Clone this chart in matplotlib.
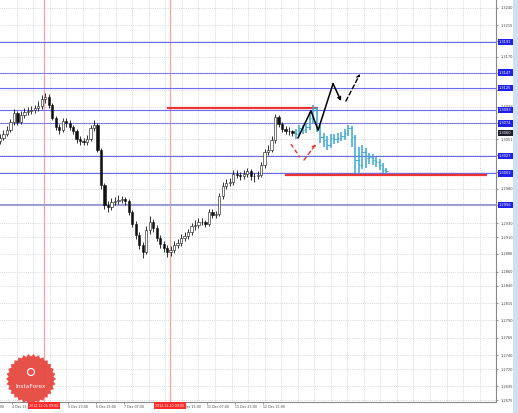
import numpy as np
import matplotlib
matplotlib.use("Agg")
import matplotlib.pyplot as plt
import matplotlib.transforms as mtransforms
from matplotlib.patches import Polygon, Circle

# ---------------- data ----------------
bar_hours = 2  # each bar covers 2 trading hours; x axis in trading hours

first_open = 1.3048
close = [1.3053, 1.3059, 1.3064, 1.3076, 1.3089, 1.3076, 1.3086, 1.3090, 1.3092, 1.3093,
         1.3096, 1.3099, 1.3109, 1.3112, 1.3100, 1.3082, 1.3069, 1.3064, 1.3077, 1.3074,
         1.3069, 1.3063, 1.3051, 1.3048, 1.3047, 1.3051, 1.3067, 1.3072, 1.3036, 1.2985,
         1.2956, 1.2953, 1.2961, 1.2962, 1.2964, 1.2965, 1.2962, 1.2946, 1.2929, 1.2913,
         1.2899, 1.2889, 1.2920, 1.2932, 1.2923, 1.2909, 1.2900, 1.2894, 1.2889, 1.2892,
         1.2899, 1.2902, 1.2909, 1.2912, 1.2917, 1.2926, 1.2928, 1.2932, 1.2932, 1.2929,
         1.2946, 1.2942, 1.2943, 1.2969, 1.2984, 1.2988, 1.2989, 1.3001, 1.3000, 1.2998,
         1.3001, 1.3005, 1.2998, 1.2998, 1.3000, 1.3014, 1.3033, 1.3036, 1.3050, 1.3083,
         1.3073, 1.3066, 1.3063, 1.3063, 1.3060]
high = [1.3058, 1.3064, 1.3070, 1.3080, 1.3095, 1.3092, 1.3091, 1.3096, 1.3097, 1.3099,
        1.3101, 1.3106, 1.3114, 1.3118, 1.3116, 1.3103, 1.3085, 1.3073, 1.3082, 1.3081,
        1.3078, 1.3072, 1.3066, 1.3055, 1.3053, 1.3057, 1.3072, 1.3078, 1.3075, 1.3039,
        1.2988, 1.2962, 1.2966, 1.2968, 1.2970, 1.2969, 1.2968, 1.2965, 1.2949, 1.2933,
        1.2917, 1.2903, 1.2926, 1.2940, 1.2936, 1.2927, 1.2913, 1.2905, 1.2898, 1.2897,
        1.2904, 1.2907, 1.2914, 1.2917, 1.2922, 1.2931, 1.2934, 1.2938, 1.2937, 1.2935,
        1.2951, 1.2950, 1.2948, 1.2974, 1.2989, 1.2994, 1.2995, 1.3006, 1.3006, 1.3004,
        1.3006, 1.3009, 1.3008, 1.3003, 1.3005, 1.3018, 1.3037, 1.3042, 1.3055, 1.3088,
        1.3086, 1.3076, 1.3070, 1.3068, 1.3065]
low = [1.3044, 1.3050, 1.3055, 1.3061, 1.3072, 1.3071, 1.3073, 1.3082, 1.3086, 1.3087,
       1.3089, 1.3092, 1.3095, 1.3103, 1.3096, 1.3078, 1.3064, 1.3059, 1.3061, 1.3069,
       1.3064, 1.3058, 1.3046, 1.3043, 1.3042, 1.3043, 1.3049, 1.3063, 1.3032, 1.2980,
       1.2950, 1.2946, 1.2949, 1.2956, 1.2958, 1.2959, 1.2957, 1.2942, 1.2924, 1.2907,
       1.2893, 1.2880, 1.2886, 1.2915, 1.2918, 1.2904, 1.2895, 1.2888, 1.2881, 1.2883,
       1.2887, 1.2894, 1.2897, 1.2904, 1.2907, 1.2913, 1.2921, 1.2923, 1.2927, 1.2924,
       1.2926, 1.2937, 1.2938, 1.2940, 1.2965, 1.2979, 1.2983, 1.2985, 1.2995, 1.2993,
       1.2994, 1.2997, 1.2992, 1.2990, 1.2994, 1.2997, 1.3010, 1.3028, 1.3032, 1.3046,
       1.3068, 1.3061, 1.3058, 1.3057, 1.3055]

# projected pattern (cyan)
proj_first_open = 1.3060
proj_close = [1.3059, 1.3067, 1.3064, 1.3069, 1.3082, 1.3096, 1.3069, 1.3054, 1.3050, 1.3043,
              1.3053, 1.3051, 1.3053, 1.3056, 1.3060, 1.3067, 1.3054, 1.3021, 1.3014, 1.3033,
              1.3024, 1.3026, 1.3021, 1.3018, 1.3014, 1.3007, 1.3005]
proj_high = [1.3066, 1.3072, 1.3071, 1.3075, 1.3090, 1.3100, 1.3098, 1.3072, 1.3060, 1.3056,
             1.3058, 1.3058, 1.3060, 1.3062, 1.3066, 1.3072, 1.3070, 1.3057, 1.3040, 1.3042,
             1.3038, 1.3031, 1.3030, 1.3026, 1.3022, 1.3017, 1.3010]
proj_low = [1.3052, 1.3055, 1.3058, 1.3060, 1.3065, 1.3075, 1.3062, 1.3046, 1.3040, 1.3036,
            1.3038, 1.3044, 1.3046, 1.3048, 1.3050, 1.3055, 1.3040, 1.3002, 1.3001, 1.3008,
            1.3010, 1.3016, 1.3014, 1.3011, 1.3006, 1.3002, 1.3001]

# horizontal levels (blue), current price
levels = [1.3191, 1.3147, 1.3125, 1.3093, 1.3074, 1.3027, 1.3002]
level_thick = 1.2956
current_price = 1.3060

# red support / resistance segments: (price, start hour, end hour)
res_price, res_start, res_end = 1.3096, 95.9, 182.7
sup_price, sup_start, sup_end = 1.3000, 163.7, 279.7

# vertical red lines (hours) and their labels
vline_hours = [25.3, 97.6]
vline_labels = ["2012.12.05 09:00", "2012.12.10 09:00"]

# forecast arrows
black_x = [171.2, 178.6, 182.7, 191.3, 195.9]
black_y = [1.3053, 1.3092, 1.3064, 1.3131, 1.3106]
black_dash_x = [198.7, 206.8]
black_dash_y = [1.3106, 1.3145]
red_dash1_x = [167.1, 172.3]
red_dash1_y = [1.3044, 1.3025]
red_dash2_x = [174.6, 181.5]
red_dash2_y = [1.3021, 1.3044]

# axis ticks
price_ticks = [1.3240, 1.3215, 1.3193, 1.3170, 1.3146, 1.3122, 1.3098, 1.3075, 1.3051,
               1.3028, 1.3004, 1.2980, 1.2957, 1.2930, 1.2910, 1.2886, 1.2860, 1.2840,
               1.2815, 1.2790, 1.2765, 1.2740, 1.2720, 1.2695, 1.2675]
first_date_hour, first_date_label = -9, "3 Dec 23:00"
date_tick_hours = [7, 39, 55, 71, 103, 119, 135, 151]
date_tick_labels = ["4 Dec 15:00", "5 Dec 23:00", "6 Dec 15:00", "7 Dec 07:00",
                    "10 Dec 15:00", "11 Dec 07:00", "11 Dec 23:00", "12 Dec 15:00"]

# ---------------- figure ----------------
W, H = 518, 413
fig = plt.figure(figsize=(W / 100, H / 100), dpi=100)
fig.patch.set_facecolor("white")
ax = fig.add_axes([0, 11 / H, 496 / W, 402 / H])

# light blue strip at far right
fig.add_artist(plt.Rectangle((513 / W, 0), 5 / W, 1, transform=fig.transFigure,
                             fc="#cfe0f2", ec="none"))

# ticks and grid
ax.set_yticks(price_ticks)
ax.set_yticklabels([f"{v:.4f}" for v in price_ticks])
ax.yaxis.tick_right()
ax.tick_params(axis="y", labelsize=2.6, length=1.5, width=0.4, pad=1.5,
               colors="#444444")
ax.grid(axis="y", ls=":", color="#bdbdbd", lw=0.5)
for gx in np.arange(9.5, 285, 9.5):
    ax.axvline(gx, ls=":", color="#bdbdbd", lw=0.5, zorder=0)

ax.set_xticks(date_tick_hours)
ax.set_xticklabels(date_tick_labels, ha="left")
ax.tick_params(axis="x", labelsize=2.3, length=1.5, width=0.4, pad=1,
               colors="#444444")

for s in ["top", "left"]:
    ax.spines[s].set_visible(False)
for s in ["right", "bottom"]:
    ax.spines[s].set_color("#888888")
    ax.spines[s].set_linewidth(0.8)

# vertical red lines
for vh in vline_hours:
    ax.axvline(vh, color="#f5a3a3", lw=0.9, zorder=1)

# blue levels
for lv in levels:
    ax.axhline(lv, color="#6b6bf0", lw=0.8, zorder=1)
ax.axhline(level_thick, color="#9a9ad6", lw=1.5, zorder=1)

# red segments
ax.hlines(res_price, res_start, res_end, color="#ee3333", lw=1.6, zorder=3)
ax.hlines(sup_price, sup_start, sup_end, color="#ee3333", lw=1.6, zorder=3)

# candles
x = np.arange(len(close)) * bar_hours
opens = [first_open] + close[:-1]
ax.vlines(x, low, high, color="#111111", lw=0.6, zorder=4)
bull = [c >= o for o, c in zip(opens, close)]
heights = [c - o if abs(c - o) > 0.00005 else 0.00005 for o, c in zip(opens, close)]
ax.bar(x, heights, bottom=opens, width=1.3,
       color=["white" if b else "#111111" for b in bull],
       edgecolor="#111111", lw=0.4, zorder=5)

# projected bars
px = (len(close) + np.arange(len(proj_close))) * bar_hours
popens = [proj_first_open] + proj_close[:-1]
pc = "#3ba7cf"
ax.vlines(px, proj_low, proj_high, color=pc, lw=1.1, zorder=4)
ax.hlines(popens, px - 0.8, px, color=pc, lw=0.8, zorder=4)
ax.hlines(proj_close, px, px + 0.8, color=pc, lw=0.8, zorder=4)

# forecast arrows
ax.plot(black_x[:-1], black_y[:-1], color="black", lw=1.1, zorder=6)
ax.annotate("", xy=(black_x[-1], black_y[-1]), xytext=(black_x[-2], black_y[-2]),
            arrowprops=dict(arrowstyle="->", color="black", lw=1.1,
                            mutation_scale=5, shrinkA=0, shrinkB=0), zorder=6)
ax.annotate("", xy=(black_dash_x[1], black_dash_y[1]), xytext=(black_dash_x[0], black_dash_y[0]),
            arrowprops=dict(arrowstyle="->", color="black", lw=1.0, ls=(0, (3, 2)),
                            mutation_scale=5, shrinkA=0, shrinkB=0), zorder=6)
ax.plot(red_dash1_x, red_dash1_y, color="#ee3333", lw=1.0, ls=(0, (3, 2)), zorder=6)
ax.annotate("", xy=(red_dash2_x[1], red_dash2_y[1]), xytext=(red_dash2_x[0], red_dash2_y[0]),
            arrowprops=dict(arrowstyle="->", color="#ee3333", lw=1.0, ls=(0, (3, 2)),
                            mutation_scale=5, shrinkA=0, shrinkB=0), zorder=6)

# price boxes on the axis
ytr = mtransforms.blended_transform_factory(ax.transAxes, ax.transData)
for lv in levels + [level_thick]:
    ax.text(1.006, lv, f"{lv:.4f}", transform=ytr, ha="left", va="center",
            fontsize=2.6, color="white", clip_on=False, zorder=10,
            bbox=dict(boxstyle="square,pad=0.35", fc="#2020e8", ec="none"))
ax.text(1.006, current_price, f"{current_price:.4f}", transform=ytr, ha="left",
        va="center", fontsize=2.6, color="white", clip_on=False, zorder=11,
        bbox=dict(boxstyle="square,pad=0.35", fc="#1c1c2c", ec="none"))

# date label partly outside on the left
xtr = mtransforms.blended_transform_factory(ax.transData, ax.transAxes)
ax.text(first_date_hour, -0.0075, first_date_label, transform=xtr, ha="left", va="top",
        fontsize=2.3, color="#444444", clip_on=False)

# red date boxes
for vh, lab in zip(vline_hours, vline_labels):
    ax.text(vh, -0.004, lab, transform=xtr, ha="center", va="top", fontsize=2.3,
            color="white", clip_on=False, zorder=10,
            bbox=dict(boxstyle="square,pad=0.5", fc="#ff2a2a", ec="none"))

# limits last (set_xticks would otherwise expand them)
ax.set_xlim(0, 284.9)
ax.set_ylim(1.26726, 1.32515)

# InstaForex logo
cx, cy = 0.31, (H - 379) / 100
n = 30
theta = np.linspace(0, 2 * np.pi, 2 * n, endpoint=False)
r = np.where(np.arange(2 * n) % 2 == 0, 0.25, 0.225)
star = np.column_stack([cx + r * np.cos(theta), cy + r * np.sin(theta)])
fig.add_artist(Polygon(star, closed=True, transform=fig.dpi_scale_trans,
                       fc="#e5473f", ec="none", alpha=0.95, zorder=20))
fig.add_artist(Circle((cx, cy + 0.07), 0.035, transform=fig.dpi_scale_trans,
                      fc="none", ec="white", lw=0.8, zorder=21))
fig.text(cx, cy - 0.08, "InstaForex", transform=fig.dpi_scale_trans, ha="center",
         va="center", fontsize=4.2, color="white", zorder=22)

fig.savefig("out.png", dpi=100)
